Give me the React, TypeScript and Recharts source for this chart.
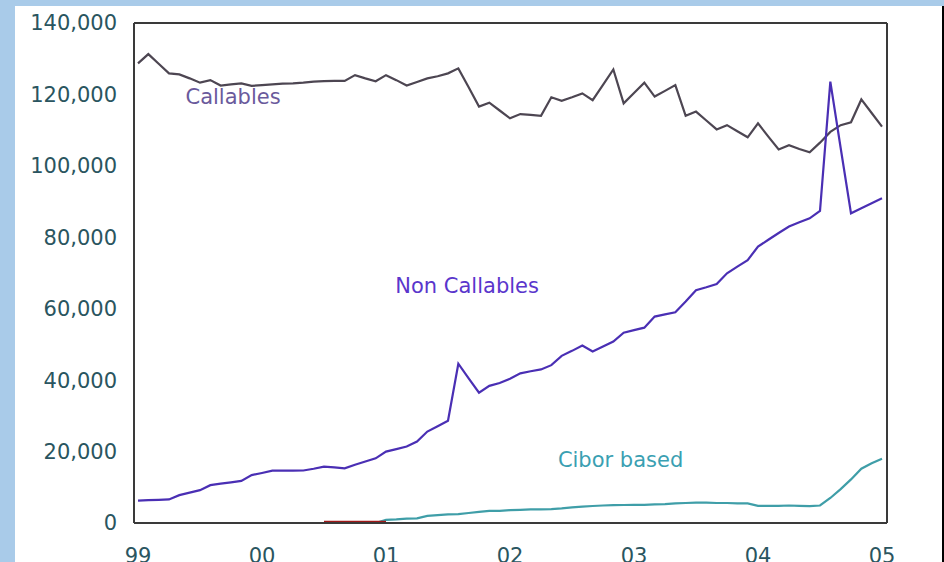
import React from 'react';
import { LineChart, Line, XAxis, YAxis, ReferenceDot } from 'recharts';

// monthly figures, Jan 1999 .. Jan 2005 (73 months)
const callables = [
  128700, 131300, 128600, 125900, 125600, 124500, 123300, 124000, 122500, 122800,
  123100, 122400, 122600, 122800, 123000, 123100, 123300, 123600, 123700, 123800,
  123800, 125400, 124500, 123700, 125400, 124000, 122500, 123500, 124500, 125100,
  125900, 127300, 122000, 116600, 117700, 115500, 113300, 114500, 114300, 114000,
  119200, 118200, 119200, 120300, 118400, 122700, 127000, 117500, 120400, 123300,
  119400, 121000, 122600, 114000, 115200, 112700, 110200, 111400, 109700, 108000,
  111900, 108200, 104600, 105800, 104700, 103800, 106500, 109500, 111400, 112200,
  118600, 114800, 111000,
];

const nonCallables = [
  6250, 6400, 6500, 6600, 7800, 8500, 9200, 10600, 11000, 11400,
  11800, 13400, 14000, 14650, 14700, 14650, 14700, 15200, 15800, 15600,
  15300, 16300, 17200, 18100, 20000, 20700, 21400, 22800, 25600, 27100,
  28650, 44600, 40500, 36500, 38400, 39200, 40400, 41900, 42500, 43000,
  44200, 46800, 48200, 49700, 48000, 49400, 50800, 53300, 54000, 54700,
  57800, 58400, 59000, 62000, 65200, 66000, 66900, 69900, 71800, 73600,
  77400, 79300, 81200, 83000, 84200, 85300, 87400, 123600, 105000, 86700,
  88100, 89500, 90900,
];

const cibor = [
  0, 0, 0, 0, 0, 0, 0, 0, 0, 0,
  0, 0, 0, 0, 0, 0, 0, 0, 0, 0,
  0, 0, 0, 0, 900, 1000, 1200, 1300, 2000, 2200,
  2400, 2500, 2800, 3100, 3400, 3400, 3600, 3700, 3800, 3800,
  3900, 4100, 4400, 4600, 4760, 4900, 5000, 5040, 5100, 5100,
  5200, 5300, 5500, 5600, 5700, 5700, 5600, 5600, 5500, 5500,
  4800, 4800, 4800, 4900, 4800, 4700, 4900, 7000, 9500, 12200,
  15200, 16700, 18000,
];

// short dark red stretch lying on the zero line around late 2000
const other: (number | null)[] = [
  null, null, null, null, null, null, null, null, null, null,
  null, null, null, null, null, null, null, null, 300, 300,
  300, 300, 300, 300, 300, null, null, null, null, null,
];

const yearTicks = [0, 12, 24, 36, 48, 60, 72];
const yearLabels = ['99', '00', '01', '02', '03', '04', '05'];
const valueTicks = [0, 20000, 40000, 60000, 80000, 100000, 120000, 140000];

const data = callables.map((v, i) => ({
  m: i,
  callables: v,
  nonCallables: nonCallables[i],
  cibor: cibor[i],
  other: i < other.length ? other[i] : null,
}));

const font = '"DejaVu Sans", Verdana, sans-serif';
const tickStyle = { fill: '#2a5560', fontSize: 21, fontFamily: font };
const frame = '#3a3a3a';

const label = (value: string, fill: string) => ({
  value,
  position: 'center' as const,
  fill,
  fontSize: 21,
  fontFamily: font,
});

export default function App() {
  return (
    <div
      style={{
        position: 'fixed',
        left: 0,
        top: 0,
        width: 944,
        height: 562,
        background: '#a9cbe9',
        overflow: 'hidden',
      }}
    >
      <div
        style={{
          position: 'absolute',
          left: 15,
          top: 6,
          width: 927,
          height: 556,
          background: '#fff',
          borderRight: '2px solid #000',
        }}
      />
      <div style={{ position: 'absolute', left: 0, top: 0 }}>
        <LineChart
          width={944}
          height={562}
          data={data}
          margin={{ top: 22, right: 56, bottom: 0, left: 0 }}
        >
          <XAxis
            dataKey="m"
            type="number"
            domain={[0, 72]}
            ticks={yearTicks}
            tickFormatter={(v: number) => yearLabels[yearTicks.indexOf(v)]}
            padding={{ left: 4, right: 5 }}
            height={39}
            tickSize={0}
            tickMargin={25}
            tick={tickStyle}
            axisLine={{ stroke: frame, strokeWidth: 2 }}
          />
          <XAxis
            xAxisId="top"
            orientation="top"
            dataKey="m"
            type="number"
            domain={[0, 72]}
            height={1}
            tick={false}
            tickLine={false}
            axisLine={{ stroke: frame, strokeWidth: 2 }}
          />
          <YAxis
            domain={[0, 140000]}
            ticks={valueTicks}
            tickFormatter={(v: number) => v.toLocaleString('en-US')}
            width={134}
            tickSize={0}
            tickMargin={17}
            tick={tickStyle}
            axisLine={{ stroke: frame, strokeWidth: 2 }}
          />
          <YAxis
            yAxisId="right"
            orientation="right"
            domain={[0, 140000]}
            width={1}
            tick={false}
            tickLine={false}
            axisLine={{ stroke: frame, strokeWidth: 2 }}
          />
          <Line
            dataKey="cibor"
            stroke="#3f9ea8"
            strokeWidth={2.2}
            dot={false}
            isAnimationActive={false}
          />
          <Line
            dataKey="other"
            stroke="#a01818"
            strokeWidth={2.2}
            dot={false}
            connectNulls={false}
            isAnimationActive={false}
          />
          <Line
            dataKey="callables"
            stroke="#4d4652"
            strokeWidth={2.2}
            dot={false}
            isAnimationActive={false}
          />
          <Line
            dataKey="nonCallables"
            stroke="#4a2fb4"
            strokeWidth={2.2}
            dot={false}
            isAnimationActive={false}
          />
          <ReferenceDot x={9.2} y={119300} r={0} ifOverflow="visible" label={label('Callables', '#6a5a9c')} />
          <ReferenceDot x={31.85} y={66600} r={0} ifOverflow="visible" label={label('Non Callables', '#5a36cc')} />
          <ReferenceDot x={46.7} y={17900} r={0} ifOverflow="visible" label={label('Cibor based', '#3a9fb2')} />
        </LineChart>
      </div>
    </div>
  );
}
